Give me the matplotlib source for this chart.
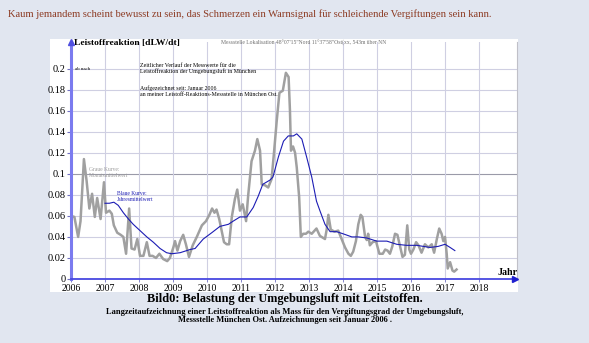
import matplotlib
matplotlib.use('Agg')
import matplotlib.pyplot as plt
import matplotlib.patches as patches
import numpy as np

plt.rcParams['font.family'] = ['Liberation Serif', 'DejaVu Serif']

# Monatsmittelwert (graue Kurve)
grey_x = [2006.00, 2006.10, 2006.21, 2006.28, 2006.38, 2006.46, 2006.54, 2006.62, 2006.70, 2006.77,
          2006.87, 2006.97, 2007.03, 2007.13, 2007.20, 2007.26, 2007.36, 2007.46, 2007.54, 2007.62,
          2007.71, 2007.78, 2007.87, 2007.95, 2008.03, 2008.13, 2008.23, 2008.31, 2008.40, 2008.50,
          2008.60, 2008.71, 2008.83, 2008.91, 2009.01, 2009.06, 2009.13, 2009.21, 2009.30, 2009.38,
          2009.47, 2009.58, 2009.70, 2009.85, 2009.97, 2010.07, 2010.15, 2010.22, 2010.28, 2010.36,
          2010.43, 2010.50, 2010.58, 2010.65, 2010.73, 2010.82, 2010.89, 2010.97, 2011.05, 2011.10,
          2011.15, 2011.21, 2011.31, 2011.41, 2011.48, 2011.56, 2011.61, 2011.71, 2011.80, 2011.90,
          2011.97, 2012.05, 2012.13, 2012.23, 2012.32, 2012.40, 2012.44, 2012.47, 2012.53, 2012.59,
          2012.64, 2012.71, 2012.76, 2012.83, 2012.91, 2012.98, 2013.08, 2013.22, 2013.32, 2013.47,
          2013.52, 2013.57, 2013.64, 2013.75, 2013.86, 2013.96, 2014.06, 2014.16, 2014.23, 2014.30,
          2014.38, 2014.45, 2014.52, 2014.57, 2014.65, 2014.70, 2014.74, 2014.79, 2014.87, 2014.97,
          2015.07, 2015.17, 2015.24, 2015.31, 2015.38, 2015.45, 2015.53, 2015.60, 2015.68, 2015.75,
          2015.82, 2015.89, 2015.95, 2016.00, 2016.07, 2016.15, 2016.22, 2016.31, 2016.41, 2016.51,
          2016.61, 2016.68, 2016.76, 2016.83, 2016.90, 2016.95, 2017.00, 2017.05, 2017.08, 2017.15,
          2017.22, 2017.27, 2017.34]
grey_y = [0.060, 0.059, 0.040, 0.055, 0.114, 0.093, 0.067, 0.081, 0.059, 0.077,
          0.057, 0.092, 0.063, 0.065, 0.062, 0.051, 0.044, 0.042, 0.040, 0.024,
          0.067, 0.029, 0.028, 0.038, 0.022, 0.022, 0.035, 0.022, 0.022, 0.020,
          0.024, 0.019, 0.017, 0.020, 0.030, 0.036, 0.027, 0.036, 0.042, 0.033,
          0.021, 0.032, 0.040, 0.051, 0.055, 0.061, 0.067, 0.063, 0.066, 0.057,
          0.046, 0.035, 0.033, 0.033, 0.059, 0.076, 0.085, 0.065, 0.071, 0.063,
          0.055, 0.079, 0.112, 0.122, 0.133, 0.122, 0.090, 0.089, 0.087, 0.095,
          0.120, 0.150, 0.177, 0.179, 0.196, 0.192, 0.160, 0.122, 0.126, 0.120,
          0.106, 0.078, 0.040, 0.043, 0.043, 0.045, 0.043, 0.048, 0.041, 0.038,
          0.047, 0.061, 0.047, 0.045, 0.046, 0.038, 0.030, 0.024, 0.022, 0.026,
          0.036, 0.052, 0.061, 0.059, 0.040, 0.037, 0.043, 0.032, 0.035, 0.036,
          0.024, 0.024, 0.028, 0.027, 0.024, 0.031, 0.043, 0.042, 0.031, 0.021,
          0.023, 0.051, 0.028, 0.024, 0.028, 0.035, 0.032, 0.025, 0.033, 0.030,
          0.033, 0.025, 0.038, 0.048, 0.043, 0.036, 0.040, 0.024, 0.010, 0.016,
          0.008, 0.007, 0.009]

# Jahresmittelwert (blaue Kurve)
blue_x = [2007.00, 2007.13, 2007.26, 2007.39, 2007.54, 2007.69, 2007.83, 2008.03, 2008.23, 2008.42,
          2008.62, 2008.81, 2008.96, 2009.21, 2009.50, 2009.65, 2009.89, 2010.14, 2010.38, 2010.63,
          2010.77, 2010.97, 2011.17, 2011.36, 2011.51, 2011.64, 2011.85, 2011.94, 2012.10, 2012.25,
          2012.39, 2012.54, 2012.64, 2012.79, 2012.93, 2013.08, 2013.22, 2013.32, 2013.47, 2013.62,
          2013.81, 2014.00, 2014.26, 2014.45, 2014.70, 2014.99, 2015.29, 2015.58, 2015.87, 2016.17,
          2016.56, 2016.80, 2017.00, 2017.15, 2017.29]
blue_y = [0.072, 0.072, 0.073, 0.070, 0.063, 0.057, 0.052, 0.046, 0.040, 0.035,
          0.029, 0.025, 0.024, 0.025, 0.028, 0.029, 0.038, 0.044, 0.050, 0.052,
          0.055, 0.059, 0.059, 0.068, 0.079, 0.090, 0.094, 0.097, 0.116, 0.131,
          0.136, 0.136, 0.138, 0.133, 0.116, 0.097, 0.074, 0.065, 0.052, 0.045,
          0.045, 0.043, 0.040, 0.040, 0.039, 0.036, 0.036, 0.033, 0.032, 0.032,
          0.030, 0.031, 0.033, 0.030, 0.027]

years = list(range(2006, 2019))
y_ticks = [0, 0.02, 0.04, 0.06, 0.08, 0.1, 0.12, 0.14, 0.16, 0.18, 0.2]

W, H = 589, 343
fig = plt.figure(figsize=(W / 100, H / 100), dpi=100)
fig.patch.set_facecolor('#e1e6f0')

def fx(px):
    return px / W

def fy(py):
    return 1 - py / H

# weisses Feld hinter dem Diagramm
fig.add_artist(patches.Rectangle((fx(50), fy(292)), fx(518) - fx(50), fy(39) - fy(292),
                                 transform=fig.transFigure, facecolor='white',
                                 edgecolor='none', zorder=0))

ax = fig.add_axes([fx(71), fy(279), fx(517) - fx(71), fy(42) - fy(279)])
ax.set_facecolor('white')
ax.set_xlim(2006, 2006 + 446 / 34)
ax.set_ylim(0, 237 / 1052)

for v in y_ticks[1:]:
    ax.axhline(v, color='#9a9aa8' if abs(v - 0.1) < 1e-9 else '#cfcfe2', lw=0.8, zorder=1)
for yr in years[1:]:
    ax.axvline(yr, color='#cfcfe2', lw=0.8, zorder=1)

for s in ['top', 'left', 'bottom']:
    ax.spines[s].set_visible(False)
ax.spines['right'].set_color('#c0c0c8')
ax.spines['right'].set_linewidth(0.8)

ax.plot(grey_x, grey_y, color='#a0a0a0', lw=1.8, zorder=3)
ax.plot(blue_x, blue_y, color='#1c1cb4', lw=0.8, zorder=4)

# Achsen mit Pfeilen
ax.plot([0, 0], [0, 1], transform=ax.transAxes, color='#7b7bef', lw=2.2, clip_on=False, zorder=5)
ax.plot([0], [1], transform=ax.transAxes, marker='^', ms=4, color='#5050e0', clip_on=False, zorder=5)
ax.plot([0, 0.995], [0, 0], transform=ax.transAxes, color='#4848e0', lw=1.3, clip_on=False, zorder=5)
ax.plot([0.995], [0], transform=ax.transAxes, marker='>', ms=4, color='#2020d0', clip_on=False, zorder=5)

ax.set_xticks(years)
ax.set_xticklabels([str(y) for y in years])
ax.set_yticks(y_ticks)
ax.set_yticklabels([f'{v:g}' for v in y_ticks])
ax.tick_params(axis='y', length=3, width=0.8, color='#7070c0', labelsize=7.5, pad=1)
ax.tick_params(axis='x', length=2, width=0.6, color='#7070c0', labelsize=7, pad=1.5)

# Beschriftungen im Diagramm
ax.text(2006.08, 0.2245, 'Leistoffreaktion [dLW/dt]', fontsize=6.8, fontweight='bold', va='center', ha='left')
ax.text(2010.4, 0.2245, 'Messstelle Lokalisation 48°07\'15"Nord 11°37\'58"Ost(xx, 543m über NN',
        fontsize=4.1, color='#707070', va='center', ha='left')
ax.text(2006.12, 0.2, 'ab nach', fontsize=3.5, va='center', ha='left')
ax.text(2008.03, 0.2, 'Zeitlicher Verlauf der Messwerte für die\nLeistoffreaktion der Umgebungsluft in München',
        fontsize=4.2, va='center', ha='left', linespacing=1.15)
ax.text(2008.03, 0.1785, 'Aufgezeichnet seit: Januar 2006\nan meiner Leistoff-Reaktions-Messstelle in München Ost.',
        fontsize=4.2, va='center', ha='left', linespacing=1.15)
ax.text(2006.53, 0.1015, 'Graue Kurve:\nMonatsmittelwert', fontsize=4.0, color='#999999',
        va='center', ha='left', linespacing=1.15)
ax.text(2007.35, 0.0785, 'Blaue Kurve:\nJahresmittelwert', fontsize=4.0, color='#1c1cb4',
        va='center', ha='left', linespacing=1.15)
ax.text(2018.55, 0.0065, 'Jahr', fontsize=7.2, fontweight='bold', va='center', ha='left')

# Texte ausserhalb
fig.text(fx(8), fy(14), 'Kaum jemandem scheint bewusst zu sein, das Schmerzen ein Warnsignal für '
         'schleichende Vergiftungen sein kann.', fontsize=7.6, color='#8c3a22', va='center', ha='left')
fig.text(fx(285), fy(299), 'Bild0: Belastung der Umgebungsluft mit Leitstoffen.', fontsize=8.8,
         fontweight='bold', va='center', ha='center')
fig.text(fx(285), fy(316), 'Langzeitaufzeichnung einer Leitstoffreaktion als Mass für den Vergiftungsgrad '
         'der Umgebungsluft,\nMessstelle München Ost. Aufzeichnungen seit Januar 2006 .', fontsize=6.0,
         fontweight='bold', va='center', ha='center', linespacing=1.05)

fig.savefig('out.png', dpi=100, facecolor=fig.get_facecolor())
